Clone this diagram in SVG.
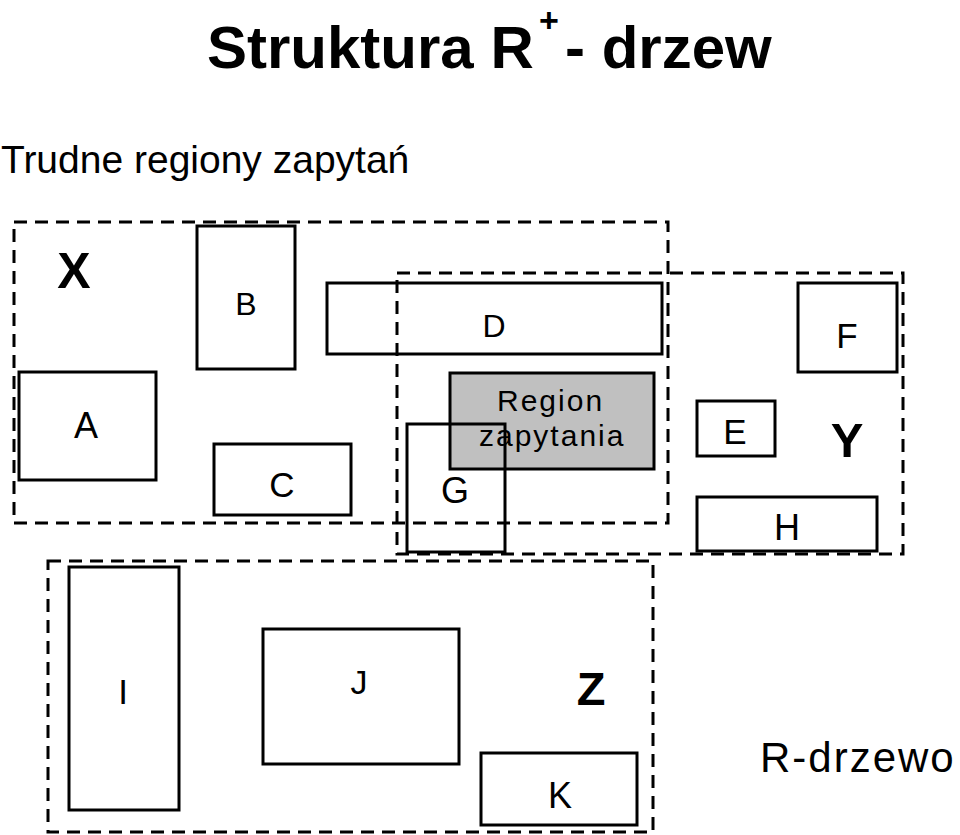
<svg xmlns="http://www.w3.org/2000/svg" width="960" height="835" viewBox="0 0 960 835">
<style>
  text { font-family: "Liberation Sans", Arial, sans-serif; fill: #000; }
  .box { fill: none; stroke: #000; stroke-width: 3; }
  .query { fill: #c0c0c0; stroke: #000; stroke-width: 3; }
  .mbr { fill: none; stroke: #000; stroke-width: 3; stroke-dasharray: 13 8; }
  .lbl { font-size: 35px; text-anchor: middle; }
  .big { font-size: 49px; font-weight: bold; text-anchor: middle; }
</style>
<rect width="960" height="835" fill="#fff"/>
<g id="title">
  <text x="207" y="68" font-size="60" font-weight="bold">Struktura R</text>
  <text x="539" y="32" font-size="34" font-weight="bold">+</text>
  <text x="565" y="68" font-size="60" font-weight="bold">- drzew</text>
</g>
<g id="subtitle">
  <text x="1" y="173" font-size="39">Trudne regiony zapytań</text>
</g>
<g id="query-region">
  <rect class="query" x="450" y="373" width="204" height="96"/>
</g>
<g id="node-A"><rect class="box" x="19" y="372" width="137" height="108"/><text class="lbl" x="86" y="438" style="font-size:36px">A</text></g>
<g id="node-B"><rect class="box" x="197" y="226" width="98" height="143"/><text class="lbl" x="246" y="315" style="font-size:32px">B</text></g>
<g id="node-C"><rect class="box" x="214" y="444" width="137" height="71"/><text class="lbl" x="282" y="497">C</text></g>
<g id="node-D"><rect class="box" x="327" y="283" width="335" height="71"/><text class="lbl" x="494" y="337" style="font-size:32px">D</text></g>
<g id="node-E"><rect class="box" x="697" y="401" width="78" height="55"/><text class="lbl" x="735" y="444">E</text></g>
<g id="node-F"><rect class="box" x="798" y="283" width="99" height="89"/><text class="lbl" x="847" y="348">F</text></g>
<g id="node-G"><rect class="box" x="407" y="424" width="98" height="128"/><text class="lbl" x="455" y="503" style="font-size:36px">G</text></g>
<g id="node-H"><rect class="box" x="697" y="497" width="180" height="54"/><text class="lbl" x="787" y="540" style="font-size:36px">H</text></g>
<g id="node-I"><rect class="box" x="69" y="567" width="110" height="243"/><text class="lbl" x="123" y="704">I</text></g>
<g id="node-J"><rect class="box" x="263" y="629" width="196" height="135"/><text class="lbl" x="359" y="694" style="font-size:34px">J</text></g>
<g id="node-K"><rect class="box" x="481" y="753" width="156" height="72"/><text class="lbl" x="560" y="808" style="font-size:36px">K</text></g>
<g id="query-label">
  <text x="497" y="411" font-size="30" letter-spacing="2">Region</text>
  <text x="479" y="446" font-size="30" letter-spacing="2">zapytania</text>
</g>
<g id="mbr-X"><rect class="mbr" x="14" y="222" width="654" height="301"/><text class="big" x="74" y="288" style="font-size:50px">X</text></g>
<g id="mbr-Y"><rect class="mbr" x="397" y="273" width="506" height="281"/><text class="big" x="847" y="457">Y</text></g>
<g id="mbr-Z"><rect class="mbr" x="48" y="561" width="605" height="271"/><text class="big" x="591" y="705" style="font-size:47px">Z</text></g>
<g id="caption">
  <text x="760" y="772" font-size="42" letter-spacing="2">R-drzewo</text>
</g>
</svg>
